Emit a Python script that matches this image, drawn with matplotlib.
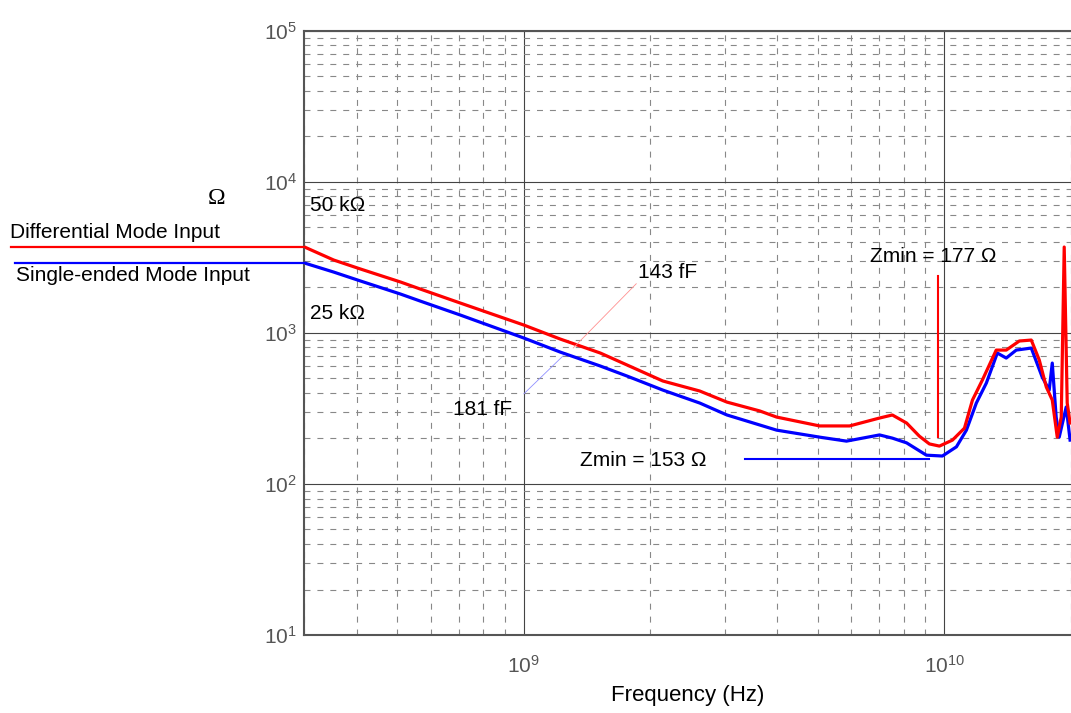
import matplotlib
matplotlib.use("Agg")
import matplotlib.pyplot as plt
from matplotlib import transforms
from matplotlib.lines import Line2D
from matplotlib.ticker import LogLocator, FixedLocator, NullFormatter

plt.rcParams['lines.scale_dashes'] = False

# Differential mode input (red)
diff_freq = [3.01e8, 3.53e8, 4.09e8, 5.09e8, 5.67e8, 7.06e8, 1.0e9, 1.22e9, 1.52e9,
             2.14e9, 2.62e9, 3.04e9, 3.64e9, 3.99e9, 5.05e9, 5.95e9, 7.01e9, 7.52e9,
             8.13e9, 8.72e9, 9.21e9, 9.73e9, 1.045e10, 1.116e10, 1.166e10, 1.231e10,
             1.328e10, 1.403e10, 1.507e10, 1.609e10, 1.681e10, 1.747e10, 1.805e10,
             1.855e10, 1.896e10, 1.927e10, 1.959e10, 1.99e10]
diff_z = [3698, 3034, 2644, 2170, 1950, 1575, 1126, 910, 735,
          480, 412, 348, 304, 277, 242, 242, 273, 286,
          253, 207, 184, 178, 195, 234, 359, 487,
          769, 769, 883, 896, 661, 438, 359,
          204, 277, 3698, 343, 253]

# Single-ended mode input (blue)
se_freq = [3.01e8, 3.53e8, 4.09e8, 5.09e8, 5.67e8, 7.06e8, 1.0e9, 1.22e9, 1.52e9,
           1.758e9, 2.14e9, 2.62e9, 3.04e9, 3.99e9, 5.05e9, 5.85e9, 7.01e9, 7.52e9,
           8.13e9, 9.06e9, 9.89e9, 1.068e10, 1.128e10, 1.191e10, 1.258e10, 1.336e10,
           1.403e10, 1.482e10, 1.609e10, 1.708e10, 1.775e10, 1.805e10, 1.844e10,
           1.875e10, 1.948e10, 1.99e10]
se_z = [2897, 2525, 2203, 1806, 1623, 1312, 924, 746, 603,
        518, 418, 343, 286, 227, 204, 192, 211, 201,
        187, 155, 153, 176, 227, 343, 465, 735,
        681, 769, 793, 510, 418, 631, 277,
        204, 323, 195]

# values quoted in the annotations
zmin_diff = 177
zmin_se = 153

fig = plt.figure(figsize=(10.71, 7.13), dpi=100)
ax = fig.add_axes([304/1071, 78/713, 767/1071, 604.3/713])
ax.set_xscale('log')
ax.set_yscale('log')
ax.set_xlim(3e8, 2e10)
ax.set_ylim(1e1, 1e5)

ax.xaxis.set_major_locator(FixedLocator([1e9, 1e10]))
ax.yaxis.set_major_locator(FixedLocator([1e1, 1e2, 1e3, 1e4, 1e5]))
ax.xaxis.set_minor_locator(LogLocator(base=10, subs=range(2, 10), numticks=20))
ax.yaxis.set_minor_locator(LogLocator(base=10, subs=range(2, 10), numticks=20))
ax.xaxis.set_minor_formatter(NullFormatter())
ax.yaxis.set_minor_formatter(NullFormatter())
ax.set_xticklabels([r'$\mathregular{10^{9}}$', r'$\mathregular{10^{10}}$'])
ax.set_yticklabels([r'$\mathregular{10^{%d}}$' % i for i in range(1, 6)])
ax.tick_params(which='both', length=0)
ax.tick_params(axis='x', pad=14, labelsize=15, labelcolor='#555555')
ax.tick_params(axis='y', pad=5, labelsize=15, labelcolor='#555555')
for lab in ax.get_xticklabels() + ax.get_yticklabels():
    lab.set_family(['Liberation Sans', 'DejaVu Sans'])

ax.grid(which='major', color='#444444', linewidth=0.8, linestyle='-')
ax.grid(which='minor', color='#888888', linewidth=0.8, linestyle=(0, (4.3, 5.0)))
ax.set_axisbelow(True)

for s in ['left', 'bottom', 'top']:
    ax.spines[s].set_color('#555555')
    ax.spines[s].set_linewidth(1.5)
ax.spines['right'].set_visible(False)

ax.plot(se_freq, se_z, color='#0000ff', linewidth=2.3)
ax.plot(diff_freq, diff_z, color='#ff0000', linewidth=2.3)

# Zmin markers
ax.plot([3.35e9, 9.21e9], [146, 146], color='#0000ff', linewidth=1.5)
ax.plot([9.68e9, 9.68e9], [204, 2377], color='#ff0000', linewidth=1.5)

# capacitance leader lines
ax.plot([1.31e9, 1.85e9], [794, 2113], color='#ff9090', linewidth=0.6)
ax.plot([1.0e9, 1.24e9], [395, 705], color='#9090ff', linewidth=0.6)

sans = ['Liberation Sans', 'DejaVu Sans']
ax.text(1.87e9, 2523, '143 fF', fontsize=15, family=sans, va='center', ha='left')
ax.text(9.38e8, 313, '181 fF', fontsize=15, family=sans, va='center', ha='right')
ax.text(3.1e8, 7000, '50 k\u03a9', fontsize=15, family=sans, va='center', ha='left')
ax.text(3.1e8, 1352, '25 k\u03a9', fontsize=15, family=sans, va='center', ha='left')
ax.text(6.64e9, 3221, 'Zmin = %d \u03a9' % zmin_diff, fontsize=15, family=sans,
        va='center', ha='left')
ax.text(1.36e9, 144, 'Zmin = %d \u03a9' % zmin_se, fontsize=15, family=sans,
        va='center', ha='left')

# legend lines running out to the left of the plot
trans = transforms.blended_transform_factory(fig.transFigure, ax.transData)
fig.add_artist(Line2D([11/1071, 304/1071], [diff_z[0], diff_z[0]], transform=trans,
                      color='#ff0000', linewidth=1.6))
fig.add_artist(Line2D([15/1071, 304/1071], [se_z[0], se_z[0]], transform=trans,
                      color='#0000ff', linewidth=1.6))
fig.text(10/1071, 1 - 233/713, 'Differential Mode Input', fontsize=15, family=sans,
         va='center', ha='left')
fig.text(16/1071, 1 - 275/713, 'Single-ended Mode Input', fontsize=15, family=sans,
         va='center', ha='left')
fig.text(217/1071, 1 - 198/713, '\u03a9', fontsize=17, family=['Liberation Serif', 'DejaVu Serif'],
         va='center', ha='center')

ax.set_xlabel('Frequency (Hz)', fontsize=16, family=sans, labelpad=6)

fig.savefig('out.png', dpi=100)
